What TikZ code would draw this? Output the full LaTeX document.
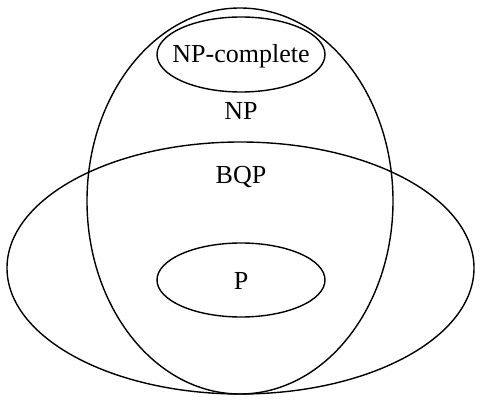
\documentclass[tikz,border=0pt]{standalone}
\usepackage{fontspec}
\setmainfont{Liberation Serif}
\usetikzlibrary{shapes,positioning}

\begin{document}
\begin{tikzpicture}[x=1pt,y=-1pt,line width=1.4pt,
    set/.style={draw,ellipse,inner sep=0pt},
    lbl/.style={anchor=base,inner sep=0pt,font=\fontsize{26}{30}\selectfont}]
    \useasboundingbox (0,0) rectangle (482,403);

    % outer classes
    \node[set,minimum width=306pt,minimum height=386pt] (np) at (240,201) {};
    \node[set,minimum width=467pt,minimum height=252pt] (bqp) at (240.5,268) {};

    % inner classes
    \node[set,minimum width=168pt,minimum height=75pt] (npc) at (241,54.5) {};
    \node[set,minimum width=168pt,minimum height=74pt] (p) at (241,280) {};

    % labels
    \node[lbl] (npclabel) at (241,62.5) {NP-complete};
    \node[lbl] (plabel) at (241,290) {P};
    \node[lbl] (nplabel) at (241,120) {NP};
    \node[lbl] (bqplabel) at (241,184) {BQP};
\end{tikzpicture}
\end{document}
